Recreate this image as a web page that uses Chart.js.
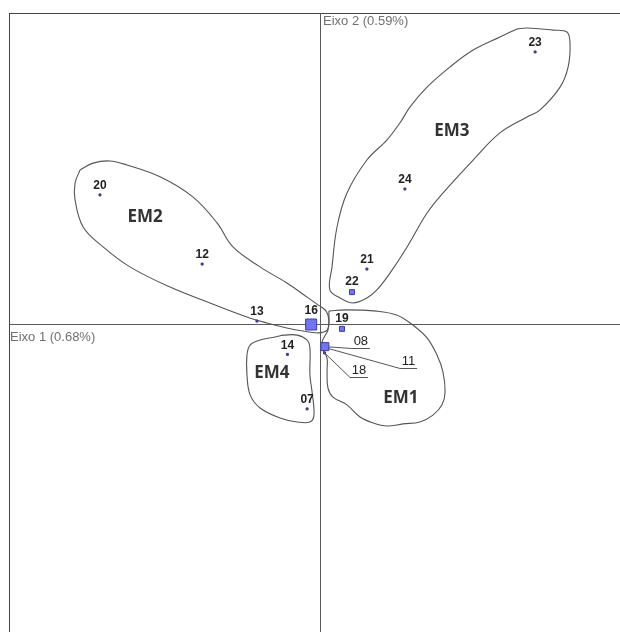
<!DOCTYPE html>
<html>
<head>
<meta charset="utf-8">
<script src="https://cdn.jsdelivr.net/npm/chart.js@4.4.1/dist/chart.umd.min.js"></script>
<style>
  html, body { margin: 0; padding: 0; overflow: hidden; background: #fff; }
  canvas { display: block; }
</style>
</head>
<body>
<canvas id="c" width="664" height="664"></canvas>
<script>
// Sites and their scores on the first two axes
const sites = ['07', '08', '11', '12', '13', '14', '16', '18', '19', '20', '21', '22', '23', '24'];
const eixo1 = [-0.043, 0.014, 0.018, -0.380, -0.204, -0.106, -0.030, 0.013, 0.069, -0.708, 0.149, 0.101, 0.689, 0.271];
const eixo2 = [-0.271, -0.071, -0.075, 0.194, 0.011, -0.096, 0.000, -0.091, -0.014, 0.416, 0.178, 0.104, 0.875, 0.435];

const axisTitles = ['Eixo 1 (0.68%)', 'Eixo 2 (0.59%)'];
const axisMin = -1;
const axisMax = 1;

// Groups of sites: name and where the name sits
const groups = ['EM1', 'EM2', 'EM3', 'EM4'];
const groupX = [0.258, -0.563, 0.422, -0.156];
const groupY = [-0.236, 0.345, 0.621, -0.156];

// Hand-traced outline of each group (axis units)
const em1X = [0.027, 0.079, 0.181, 0.246, 0.297, 0.342, 0.374, 0.393, 0.400, 0.390, 0.361, 0.319, 0.265, 0.213, 0.169, 0.127, 0.085, 0.040, 0.024, 0.021, 0.021, 0.008, 0.005, 0.014, 0.024, 0.027];
const em1Y = [0.043, 0.047, 0.043, 0.030, -0.002, -0.043, -0.098, -0.152, -0.217, -0.258, -0.291, -0.313, -0.319, -0.326, -0.316, -0.297, -0.258, -0.233, -0.204, -0.152, -0.108, -0.082, -0.056, -0.037, -0.018, 0.014];
const em2X = [-0.772, -0.730, -0.676, -0.621, -0.515, -0.409, -0.332, -0.281, -0.194, -0.108, -0.043, -0.008, 0.018, 0.027, 0.021, -0.008, -0.056, -0.108, -0.172, -0.236, -0.355, -0.483, -0.612, -0.698, -0.762, -0.788, -0.788];
const em2Y = [0.496, 0.518, 0.525, 0.512, 0.474, 0.409, 0.326, 0.249, 0.185, 0.133, 0.088, 0.063, 0.043, 0.014, -0.018, -0.027, -0.021, -0.011, 0.005, 0.024, 0.069, 0.120, 0.185, 0.249, 0.313, 0.400, 0.454];
const em3X = [0.631, 0.663, 0.746, 0.791, 0.801, 0.795, 0.769, 0.705, 0.663, 0.576, 0.490, 0.393, 0.342, 0.278, 0.223, 0.181, 0.149, 0.104, 0.063, 0.030, 0.037, 0.053, 0.085, 0.149, 0.213, 0.255, 0.287, 0.342, 0.416, 0.490, 0.576];
const em3Y = [0.949, 0.952, 0.945, 0.939, 0.904, 0.827, 0.762, 0.689, 0.666, 0.615, 0.528, 0.422, 0.358, 0.249, 0.165, 0.111, 0.085, 0.069, 0.085, 0.111, 0.185, 0.313, 0.422, 0.528, 0.592, 0.647, 0.698, 0.762, 0.827, 0.881, 0.923];
const em4X = [-0.120, -0.146, -0.194, -0.226, -0.236, -0.236, -0.226, -0.194, -0.130, -0.075, -0.034, -0.021, -0.027, -0.034, -0.034, -0.043, -0.075];
const em4Y = [-0.034, -0.040, -0.050, -0.066, -0.098, -0.162, -0.226, -0.268, -0.300, -0.313, -0.313, -0.291, -0.217, -0.162, -0.075, -0.050, -0.034];

// Marker look: square side in px (sites not listed get a small dot)
const squareSide = { '08': 9, '16': 12, '19': 6, '22': 6 };
const dotSide = 3;
// Sites whose label is pulled out on an underlined leader line (px offsets)
const leaders = {
  '08': { dx: 27, dy: 1, len: 18 },
  '11': { dx: 74, dy: 20, len: 17 },
  '18': { dx: 25.5, dy: 24, len: 18 }
};

const outlineColor = '#555555';
const dotColor = '#3e3e92';
const squareFill = '#7474ee';
const squareEdge = '#3c3cb0';

function closedLoop(xs, ys) {
  const pts = xs.map((v, i) => ({ x: v, y: ys[i] }));
  pts.push({ x: xs[0], y: ys[0] });
  return pts;
}

function sitePoints(filter) {
  const out = [];
  sites.forEach((s, i) => { if (filter(s)) out.push({ x: eixo1[i], y: eixo2[i], site: s }); });
  return out;
}

const outlineStyle = {
  showLine: true, pointRadius: 0, borderColor: outlineColor, borderWidth: 1.1,
  tension: 0.38, fill: false
};

const sideOf = s => squareSide[s] || dotSide;

const framePlugin = {
  id: 'frameAxes',
  beforeDatasetsDraw(chart) {
    const { ctx, chartArea: a, scales } = chart;
    const x0 = Math.floor(scales.x.getPixelForValue(0)) + 0.5;
    const y0 = Math.floor(scales.y.getPixelForValue(0)) + 0.5;
    ctx.save();
    ctx.lineWidth = 1;
    ctx.strokeStyle = '#444444';
    ctx.strokeRect(Math.floor(a.left) + 0.5, Math.floor(a.top) + 0.5, a.right - a.left, a.bottom - a.top);
    ctx.strokeStyle = '#5a5a5a';
    ctx.beginPath();
    ctx.moveTo(x0, a.top); ctx.lineTo(x0, a.bottom);
    ctx.moveTo(a.left, y0); ctx.lineTo(a.right, y0);
    ctx.stroke();

    ctx.fillStyle = '#707070';
    ctx.font = '13px "Liberation Sans", Arial, sans-serif';
    ctx.textBaseline = 'middle';
    ctx.textAlign = 'left';
    ctx.fillText(axisTitles[1], x0 + 2.5, a.top + 8);
    ctx.fillText(axisTitles[0], a.left + 1, y0 + 12.5);

    // leader lines with underlines
    ctx.strokeStyle = '#555555';
    ctx.beginPath();
    sites.forEach((s, i) => {
      const L = leaders[s];
      if (!L) return;
      const px = scales.x.getPixelForValue(eixo1[i]);
      const py = scales.y.getPixelForValue(eixo2[i]);
      const ux = px + L.dx, uy = Math.round(py + L.dy) + 0.5;
      ctx.moveTo(px, py);
      ctx.lineTo(ux, uy);
      ctx.lineTo(ux + L.len, uy);
    });
    ctx.stroke();
    ctx.restore();
  },
  afterDatasetsDraw(chart) {
    const { ctx, scales } = chart;
    ctx.save();
    ctx.textAlign = 'center';
    ctx.textBaseline = 'middle';
    sites.forEach((s, i) => {
      const px = scales.x.getPixelForValue(eixo1[i]);
      const py = scales.y.getPixelForValue(eixo2[i]);
      const L = leaders[s];
      if (L) {
        ctx.font = '13px "Liberation Sans", Arial, sans-serif';
        ctx.fillStyle = '#222222';
        ctx.fillText(s, px + L.dx + L.len / 2, Math.round(py + L.dy) - 6.5);
      } else {
        ctx.font = 'bold 12px "Liberation Sans", Arial, sans-serif';
        ctx.fillStyle = '#222222';
        ctx.fillText(s, px, py - sideOf(s) / 2 - 7.5);
      }
    });
    ctx.font = 'bold 17px "Open Sans", "Noto Sans", sans-serif';
    ctx.fillStyle = '#333333';
    groups.forEach((g, i) => {
      ctx.fillText(g, scales.x.getPixelForValue(groupX[i]), scales.y.getPixelForValue(groupY[i]));
    });
    ctx.restore();
  }
};

new Chart(document.getElementById('c'), {
  type: 'scatter',
  data: {
    datasets: [
      {
        label: 'squares',
        data: sitePoints(s => squareSide[s]),
        pointStyle: 'rect',
        pointRadius: ctx => (sideOf(ctx.raw.site) - 1) / Math.SQRT2,
        pointBackgroundColor: squareFill,
        pointBorderColor: squareEdge,
        pointBorderWidth: 1
      },
      {
        label: 'dots',
        data: sitePoints(s => !squareSide[s]),
        pointStyle: 'rect',
        pointRadius: (dotSide - 1) / Math.SQRT2,
        pointBackgroundColor: dotColor,
        pointBorderColor: dotColor,
        pointBorderWidth: 1
      },
      Object.assign({ label: groups[0], data: closedLoop(em1X, em1Y) }, outlineStyle),
      Object.assign({ label: groups[1], data: closedLoop(em2X, em2Y) }, outlineStyle),
      Object.assign({ label: groups[2], data: closedLoop(em3X, em3Y) }, outlineStyle),
      Object.assign({ label: groups[3], data: closedLoop(em4X, em4Y) }, outlineStyle)
    ]
  },
  options: {
    responsive: false,
    devicePixelRatio: 1,
    animation: false,
    layout: { padding: { left: 9, top: 13, right: 32, bottom: 28 } },
    scales: {
      x: { type: 'linear', min: axisMin, max: axisMax, display: false },
      y: { type: 'linear', min: axisMin, max: axisMax, display: false }
    },
    plugins: { legend: { display: false }, tooltip: { enabled: false } },
    events: []
  },
  plugins: [framePlugin]
});
</script>
</body>
</html>
